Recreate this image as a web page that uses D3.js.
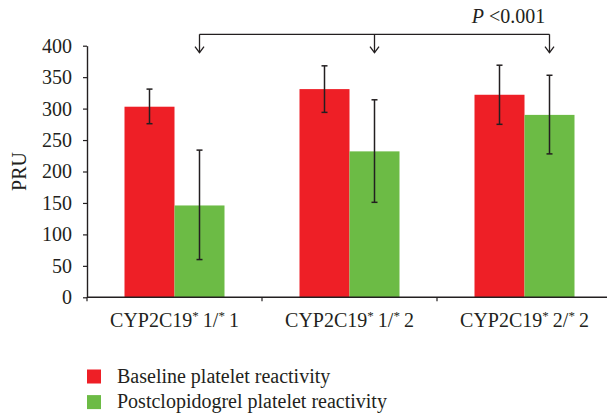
<!DOCTYPE html>
<html>
<head>
<meta charset="utf-8">
<script src="https://cdn.jsdelivr.net/npm/d3@7"></script>
<style>
  body { margin: 0; background: #fff; }
  svg text { font-family: "Liberation Serif", "DejaVu Serif", serif; fill: #231f20; }
</style>
</head>
<body>
<svg id="chart"></svg>
<script>
const width = 607,
  height = 416;

// data
const categories = ["CYP2C19*1/*1", "CYP2C19*1/*2", "CYP2C19*2/*2"];
const seriesNames = ["Baseline platelet reactivity", "Postclopidogrel platelet reactivity"];
const seriesColors = ["#ee1f26", "#6cbb45"];
const baseline = [303, 331, 322];
const baselineLow = [276, 294, 275];
const baselineHigh = [331, 368, 369];
const postClop = [146, 232, 290];
const postClopLow = [60, 151, 228];
const postClopHigh = [234, 314, 353];
const yTicks = [0, 50, 100, 150, 200, 250, 300, 350, 400];
const pLabel = "<0.001";

const ink = "#231f20";
const serif = '"Liberation Serif", "DejaVu Serif", serif';
const svg = d3
  .select("#chart")
  .attr("width", width)
  .attr("height", height)
  .style("font-family", serif);

const x = d3.scaleBand().domain(categories).range([87, 612]);
const xs = d3
  .scaleBand()
  .domain([0, 1])
  .range([0, x.bandwidth()])
  .paddingOuter(0.75);
const y = d3.scaleLinear().domain([0, 400]).range([297.3, 45.7]);

// y axis
const yAxis = svg
  .append("g")
  .attr("transform", `translate(${x.range()[0]},0)`)
  .call(d3.axisLeft(y).tickValues(yTicks).tickSize(4).tickSizeOuter(0).tickPadding(11))
  .attr("font-family", null)
  .attr("font-size", null);
yAxis.select(".domain").attr("stroke", ink).attr("stroke-width", 1.4);
yAxis.selectAll(".tick line").attr("stroke", ink).attr("stroke-width", 1.2);
yAxis
  .selectAll(".tick text")
  .style("font-family", serif)
  .attr("font-size", 20)
  .attr("fill", ink);

svg
  .append("text")
  .attr("transform", `translate(26,${(y(0) + y(400)) / 2}) rotate(-90)`)
  .attr("text-anchor", "middle")
  .attr("font-size", 20)
  .text("PRU");

// bars
const rows = categories.map((c, i) => [
  { cat: c, s: 0, v: baseline[i], lo: baselineLow[i], hi: baselineHigh[i] },
  { cat: c, s: 1, v: postClop[i], lo: postClopLow[i], hi: postClopHigh[i] },
]).flat();

svg
  .append("g")
  .selectAll("rect")
  .data(rows)
  .join("rect")
  .attr("x", (d) => x(d.cat) + xs(d.s))
  .attr("width", xs.bandwidth())
  .attr("y", (d) => y(d.v))
  .attr("height", (d) => y(0) - y(d.v))
  .attr("fill", (d) => seriesColors[d.s]);

// error bars
const err = svg.append("g").attr("stroke", ink).attr("stroke-width", 1.5);
rows.forEach((d) => {
  const cx = x(d.cat) + xs(d.s) + xs.bandwidth() / 2;
  err.append("line").attr("x1", cx).attr("x2", cx).attr("y1", y(d.hi)).attr("y2", y(d.lo));
  err.append("line").attr("x1", cx - 3).attr("x2", cx + 3).attr("y1", y(d.hi)).attr("y2", y(d.hi));
  err.append("line").attr("x1", cx - 3).attr("x2", cx + 3).attr("y1", y(d.lo)).attr("y2", y(d.lo));
});

// x axis (ticks at category boundaries)
const xAxis = svg.append("g").attr("stroke", ink);
xAxis
  .append("line")
  .attr("x1", x.range()[0])
  .attr("x2", x.range()[1])
  .attr("y1", y(0))
  .attr("y2", y(0))
  .attr("stroke-width", 1.4);
xAxis
  .selectAll(".xt")
  .data(categories)
  .join("line")
  .attr("x1", (d) => x(d))
  .attr("x2", (d) => x(d))
  .attr("y1", y(0))
  .attr("y2", y(0) + 4)
  .attr("stroke-width", 1.2);

// category labels with superscript asterisks
categories.forEach((c) => {
  const parts = c.split("*");
  const t = svg
    .append("text")
    .attr("x", x(c) + x.bandwidth() / 2)
    .attr("y", 327.3)
    .attr("text-anchor", "middle")
    .attr("font-size", 20);
  parts.forEach((p, i) => {
    if (i > 0) {
      t.append("tspan").attr("font-size", 13).attr("dy", -7).text("*");
      t.append("tspan").attr("dy", 7).text("\u2009" + p);
    } else {
      t.append("tspan").text(p);
    }
  });
});

// significance bracket over the postclopidogrel bars
const arrowX = categories.map((c) => x(c) + xs(1) + xs.bandwidth() / 2);
const by = 34.3,
  tipY = 52.7;
const br = svg.append("g").attr("stroke", ink).attr("stroke-width", 1.3).attr("fill", "none");
br.append("line")
  .attr("x1", arrowX[0])
  .attr("x2", arrowX[arrowX.length - 1])
  .attr("y1", by)
  .attr("y2", by);
arrowX.forEach((ax) => {
  br.append("line").attr("x1", ax).attr("x2", ax).attr("y1", by).attr("y2", tipY);
  br.append("path").attr("d", `M${ax - 4.5},${tipY - 6}L${ax},${tipY}L${ax + 4.5},${tipY - 6}`);
});

const pt = svg.append("text").attr("x", 471.7).attr("y", 22.7).attr("font-size", 20);
pt.append("tspan").attr("font-style", "italic").text("P");
pt.append("tspan").text(" " + pLabel);

// legend
const lg = svg
  .append("g")
  .selectAll("g")
  .data(seriesNames)
  .join("g")
  .attr("transform", (d, i) => `translate(87,${369.5 + i * 25.6})`);
lg.append("rect")
  .attr("width", 14)
  .attr("height", 14)
  .attr("fill", (d, i) => seriesColors[i]);
lg.append("text")
  .attr("x", 30)
  .attr("y", 13.2)
  .attr("font-size", 20)
  .text((d) => d);
</script>
</body>
</html>
